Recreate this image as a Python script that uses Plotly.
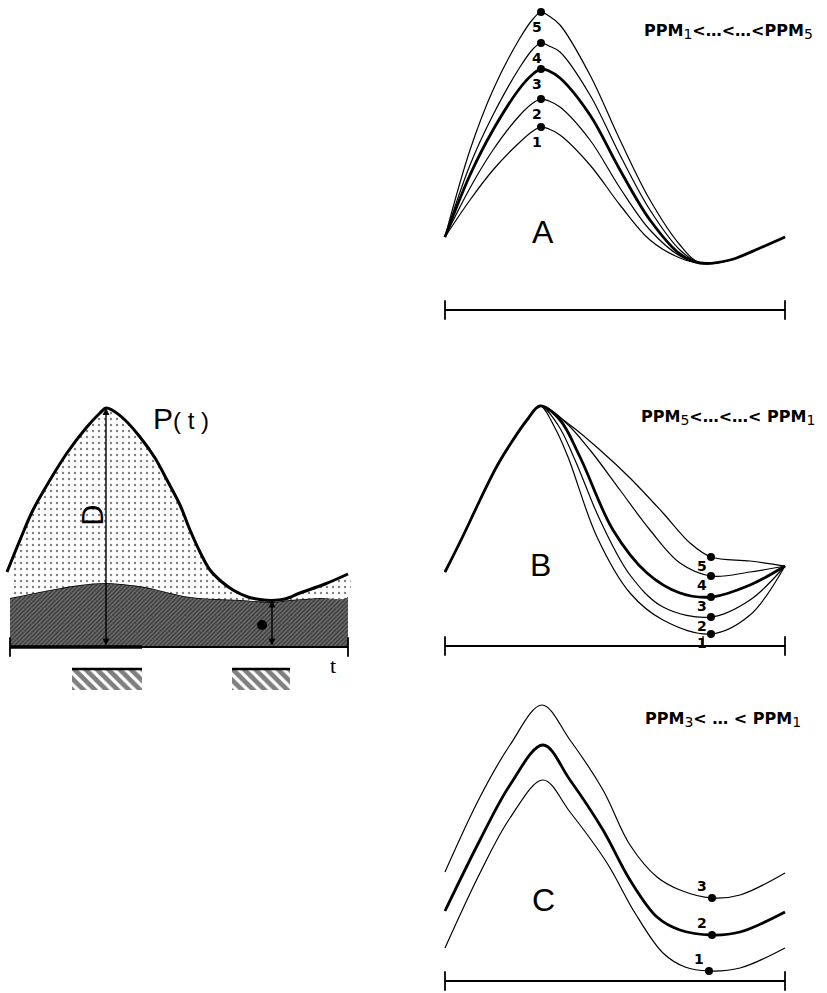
import plotly.graph_objects as go

W, H = 827, 993
FONT = "Liberation Sans"
BOLD_FONT = "DejaVu Sans"

# ---------------- Left panel: P(t) with base level ----------------
p_t = [-3, 10, 23, 40, 57, 76, 90, 96, 102, 115, 130, 145, 157, 170, 180, 190, 200, 212, 223, 238, 250, 262, 275, 290, 315, 338]
p_val = [75, 107, 137, 167, 194, 219, 234, 239, 237, 227, 210, 189, 167, 142, 117, 95, 77, 65, 57, 50, 47.5, 46.5, 48, 54, 63, 73]
base_t = [0, 20, 40, 70, 96, 120, 140, 160, 180, 205, 230, 262, 280, 310, 338]
base_val = [49, 53, 57, 62, 64, 62, 59, 54, 50, 48, 47, 45, 47, 49, 50]
stim_intervals = [(62, 132), (222, 280)]
stim_levels = (-22, -43)
left_axis_t = [0, 338]

# ---------------- Panel A ----------------
a_t = [0, 25, 48, 75, 88, 96, 104, 115, 145, 175, 205, 235, 255, 285, 315, 340]
a_curves = {
    1: [73, 110, 140, 168, 179, 183, 181, 175, 145, 105, 70, 52, 47, 50, 62, 73],
    2: [73, 122, 160, 195, 207, 211, 209, 203, 170, 122, 80, 54, 47, 50, 62, 73],
    3: [73, 135, 180, 222, 236, 241, 239, 232, 195, 140, 90, 56, 47, 50, 62, 73],
    4: [73, 145, 195, 243, 261, 267, 264, 258, 215, 155, 100, 60, 47, 50, 62, 73],
    5: [73, 160, 220, 272, 291, 298, 294, 285, 235, 170, 110, 65, 47, 50, 62, 73],
}
a_peak_index = 5

# ---------------- Panel B ----------------
b_rise_t = [0, 18, 35, 52, 68, 82, 95]
b_rise_val = [74, 110, 146, 180, 206, 226, 240]
b_tail_t = {
    1: [110, 123, 152, 185, 218, 266, 305, 340],
    2: [113, 130, 155, 185, 218, 266, 305, 340],
    3: [115, 135, 168, 202, 235, 266, 305, 340],
    4: [120, 145, 175, 205, 235, 266, 305, 340],
    5: [125, 155, 185, 218, 245, 266, 305, 340],
}
b_tail_val = {
    1: [218, 189, 109, 53, 26, 12, 31, 80],
    2: [221, 186, 126, 71, 39, 29, 46, 80],
    3: [226, 189, 116, 73, 53, 49, 61, 80],
    4: [224, 196, 156, 116, 83, 70, 74, 80],
    5: [221, 196, 168, 133, 103, 89, 85, 80],
}
b_dot_index = 5
b_tick_t = 258

# ---------------- Panel C ----------------
c_t = {
    1: [0, 35, 65, 98, 125, 162, 190, 218, 240, 264, 295, 340],
    2: [0, 35, 65, 98, 125, 158, 185, 212, 235, 267, 295, 340],
    3: [0, 35, 65, 97, 125, 158, 185, 212, 235, 267, 295, 340],
}
c_val = {
    1: [33, 108, 163, 201, 169, 118, 68, 28, 14, 10, 13, 33],
    2: [70, 141, 196, 236, 201, 151, 101, 64, 51, 46, 49, 69],
    3: [109, 184, 236, 276, 241, 191, 136, 104, 91, 83, 86, 108],
}
c_dot_index = 9
panel_axis_t = [0, 340]

# panel boxes in page pixels (x0, x1, y0, y1) and origin of the local time/pressure units
panels = {
    "L": dict(box=(0, 360, 380, 700), origin=(10, 647), ax=("x", "y")),
    "A": dict(box=(430, 827, 0, 330), origin=(445, 310), ax=("x2", "y2")),
    "B": dict(box=(430, 827, 380, 660), origin=(445, 646), ax=("x3", "y3")),
    "C": dict(box=(430, 827, 690, 993), origin=(445, 981), ax=("x4", "y4")),
}

fig = go.Figure()
layout_axes = {}
for key, p in panels.items():
    x0, x1, y0, y1 = p["box"]
    ox, oy = p["origin"]
    xa, ya = p["ax"]
    xname = "xaxis" + xa[1:]
    yname = "yaxis" + ya[1:]
    layout_axes[xname] = dict(domain=[x0 / W, x1 / W], range=[x0 - ox, x1 - ox], visible=False,
                              fixedrange=True, anchor=ya)
    layout_axes[yname] = dict(domain=[1 - y1 / H, 1 - y0 / H], range=[oy - y1, oy - y0], visible=False,
                              fixedrange=True, anchor=xa)

annotations = []


def line(x, y, axes, width=1.3, shape="spline", color="black", **kw):
    fig.add_trace(go.Scatter(x=x, y=y, xaxis=axes[0], yaxis=axes[1], mode="lines",
                             line=dict(color=color, width=width, shape=shape, smoothing=1.0),
                             hoverinfo="skip", showlegend=False, **kw))


def time_axis(t_range, axes):
    fig.add_trace(go.Scatter(x=t_range, y=[0, 0], xaxis=axes[0], yaxis=axes[1],
                             mode="lines+markers",
                             line=dict(color="black", width=2.2),
                             marker=dict(symbol="line-ns", size=14, line=dict(color="black", width=1.8)),
                             hoverinfo="skip", showlegend=False))


def text(x, y, s, axes, size, bold=False, angle=0, family=FONT):
    annotations.append(dict(x=x, y=y, xref=axes[0], yref=axes[1], text=("<b>%s</b>" % s) if bold else s,
                            showarrow=False, textangle=angle,
                            font=dict(family=family, size=size, color="black")))


def sub(s):
    return "<sub><span style='font-size:14px;font-weight:normal'>%s</span></sub>" % s


# ---- Left panel ----
axL = panels["L"]["ax"]
fig.add_trace(go.Scatter(x=base_t, y=base_val, xaxis=axL[0], yaxis=axL[1], mode="lines", fill="tozeroy",
                         line=dict(color="black", width=1.4, shape="spline", dash="solid"),
                         fillcolor="rgba(0,0,0,0)",
                         fillpattern=dict(shape="/", fgcolor="black", bgcolor="#6e6e6e", size=3, solidity=0.45),
                         hoverinfo="skip", showlegend=False))
dot_x = [max(t, 0) for t in p_t] + base_t[::-1]
dot_y = p_val + base_val[::-1]
fig.add_trace(go.Scatter(x=dot_x, y=dot_y, xaxis=axL[0], yaxis=axL[1], mode="lines", fill="toself",
                         line=dict(width=0, shape="spline"), fillcolor="rgba(0,0,0,0)",
                         fillpattern=dict(shape=".", fgcolor="black", bgcolor="white", size=6, solidity=0.12),
                         hoverinfo="skip", showlegend=False))
line(p_t, p_val, axL, width=3)
time_axis(left_axis_t, axL)
line([left_axis_t[0], stim_intervals[0][1]], [0, 0], axL, width=3.5, shape="linear")
for a, b in stim_intervals:
    fig.add_trace(go.Scatter(x=[a, b, b, a, a], y=[stim_levels[0], stim_levels[0], stim_levels[1], stim_levels[1], stim_levels[0]],
                             xaxis=axL[0], yaxis=axL[1], mode="lines", fill="toself",
                             line=dict(width=0), fillcolor="rgba(0,0,0,0)",
                             fillpattern=dict(shape="\\", fgcolor="black", bgcolor="white", size=8, solidity=0.6),
                             hoverinfo="skip", showlegend=False))
    line([a, b], [stim_levels[0], stim_levels[0]], axL, width=2.5, shape="linear")
i_peak = p_val.index(max(p_val))
i_min = p_val.index(min(p_val[i_peak:]))
for i in (i_peak, i_min):
    annotations.append(dict(x=p_t[i], y=p_val[i], ax=p_t[i], ay=0, xref=axL[0], yref=axL[1],
                            axref=axL[0], ayref=axL[1], showarrow=True, arrowhead=2, startarrowhead=2,
                            arrowside="end+start", arrowwidth=1.4, arrowsize=1, startarrowsize=1,
                            arrowcolor="black", text=""))
fig.add_trace(go.Scatter(x=[p_t[i_min] - 10], y=[22], xaxis=axL[0], yaxis=axL[1], mode="markers",
                         marker=dict(symbol="circle", size=10, color="black"), hoverinfo="skip", showlegend=False))
text(p_t[i_peak] - 13, 132, "D", axL, 28, angle=-90, family="DejaVu Sans")
annotations.append(dict(x=p_t[i_peak] + 45, y=p_val[i_peak] - 10, xref=axL[0], yref=axL[1], showarrow=False,
                        xanchor="left", text="P<span style='font-size:24px'>( t )</span>",
                        font=dict(family=FONT, size=30, color="black")))
text(323, -18, "t", axL, 22, family="Liberation Serif")

# ---- Panel A ----
axA = panels["A"]["ax"]
for k, vals in a_curves.items():
    line(a_t, vals, axA, width=2.8 if k == 3 else 1.2)
    fig.add_trace(go.Scatter(x=[a_t[a_peak_index]], y=[vals[a_peak_index]], xaxis=axA[0], yaxis=axA[1],
                             mode="markers", marker=dict(size=8, color="black"), hoverinfo="skip", showlegend=False))
    text(a_t[a_peak_index] - 4, vals[a_peak_index] - 15, str(k), axA, 14, bold=True, family=BOLD_FONT)
time_axis(panel_axis_t, axA)
text(98, 78, "A", axA, 32)
text(283, 279, "PPM" + sub(1) + "&lt;…&lt;…&lt;PPM" + sub(5), axA, 16, bold=True, family=BOLD_FONT)

# ---- Panel B ----
axB = panels["B"]["ax"]
for k in [1, 2, 4, 5, 3]:
    t = b_rise_t + b_tail_t[k]
    v = b_rise_val + b_tail_val[k]
    line(t, v, axB, width=2.8 if k == 3 else 1.2)
    fig.add_trace(go.Scatter(x=[b_tail_t[k][b_dot_index]], y=[b_tail_val[k][b_dot_index]], xaxis=axB[0], yaxis=axB[1],
                             mode="markers", marker=dict(size=8, color="black"), hoverinfo="skip", showlegend=False))
    text(b_tail_t[k][b_dot_index] - 9, b_tail_val[k][b_dot_index] - 9, str(k), axB, 14, bold=True, family=BOLD_FONT)
time_axis(panel_axis_t, axB)
line([b_tick_t, b_tick_t], [0, 10], axB, width=1.3, shape="linear")
text(95, 81, "B", axB, 32)
text(283, 229, "PPM" + sub(5) + "&lt;…&lt;…&lt; PPM" + sub(1), axB, 16, bold=True, family=BOLD_FONT)

# ---- Panel C ----
axC = panels["C"]["ax"]
for k in [1, 3, 2]:
    line(c_t[k], c_val[k], axC, width=2.8 if k == 2 else 1.2)
    fig.add_trace(go.Scatter(x=[c_t[k][c_dot_index]], y=[c_val[k][c_dot_index]], xaxis=axC[0], yaxis=axC[1],
                             mode="markers", marker=dict(size=8, color="black"), hoverinfo="skip", showlegend=False))
    text(c_t[k][c_dot_index] - 10, c_val[k][c_dot_index] + 12, str(k), axC, 14, bold=True, family=BOLD_FONT)
time_axis(panel_axis_t, axC)
text(98, 81, "C", axC, 32)
text(278, 262, "PPM" + sub(3) + "&lt; … &lt; PPM" + sub(1), axC, 16, bold=True, family=BOLD_FONT)

fig.update_layout(width=W, height=H, margin=dict(l=0, r=0, t=0, b=0), paper_bgcolor="white",
                  plot_bgcolor="white", showlegend=False, annotations=annotations, **layout_axes)
fig.write_html("out.html", config={"displayModeBar": False},
               post_script="document.body.style.margin='0';document.body.style.overflow='hidden';")
